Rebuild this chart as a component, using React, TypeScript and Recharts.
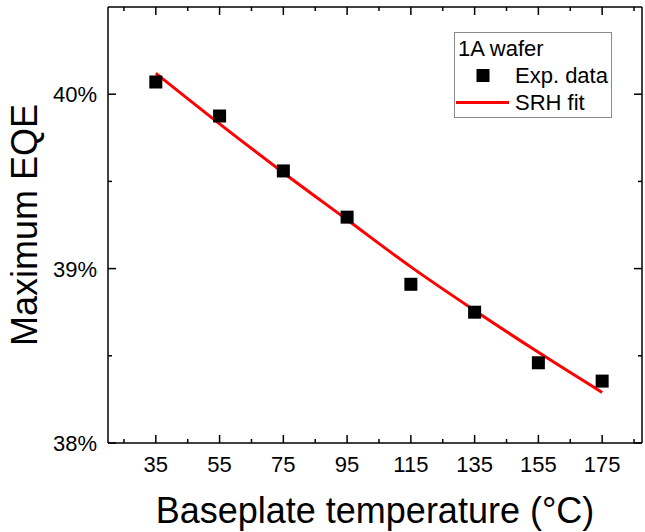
import React from "react";
import { ComposedChart, Scatter, Line, XAxis, YAxis, Legend } from "recharts";

// baseplate temperature (°C)
const temperatures = [35, 55, 75, 95, 115, 135, 155, 175];
// maximum EQE (%), measured
const eqeMeasured = [40.07, 39.875, 39.56, 39.295, 38.91, 38.75, 38.46, 38.355];
// maximum EQE (%), SRH fit
const eqeFit = [40.12, 39.83, 39.55, 39.28, 39.01, 38.76, 38.52, 38.29];

const xMajorTicks = [35, 55, 75, 95, 115, 135, 155, 175];
const xMinorTicks = [25, 45, 65, 85, 105, 125, 145, 165, 185];
const yMajorTicks = [38, 39, 40];
const yMinorTicks = [38.5, 39.5];
const yTickLabels = ["38%", "39%", "40%"];

const expData = temperatures.map((t, i) => ({ t, eqe: eqeMeasured[i] }));
const fitData = temperatures.map((t, i) => ({ t, eqe: eqeFit[i] }));

const xTicks = [...xMajorTicks, ...xMinorTicks].sort((a, b) => a - b);
const yTicks = [...yMajorTicks, ...yMinorTicks].sort((a, b) => a - b);

const X_DOMAIN: [number, number] = [20, 187.5];
const Y_DOMAIN: [number, number] = [38, 40.5];

const FONT = '"Liberation Sans", Arial, Helvetica, sans-serif';
const MAJOR_LEN = 8;
const MINOR_LEN = 4;

type Side = "bottom" | "top" | "left" | "right";

function isMajor(majors: number[], v: number) {
  return majors.some((m) => Math.abs(m - v) < 1e-6);
}

// ticks point into the plot, like the Origin style frame
function makeTick(side: Side, majors: number[], label?: (v: number) => string) {
  return (props: any) => {
    const { x, y, payload } = props;
    const v = payload.value;
    const major = isMajor(majors, v);
    const len = major ? MAJOR_LEN : MINOR_LEN;
    let x2 = x, y2 = y;
    if (side === "bottom") y2 = y - len;
    if (side === "top") y2 = y + len;
    if (side === "left") x2 = x + len;
    if (side === "right") x2 = x - len;

    let text = null;
    if (label && major) {
      if (side === "bottom") {
        text = (
          <text x={x} y={y + 29} textAnchor="middle" fontSize={22} fontFamily={FONT} fill="#000">
            {label(v)}
          </text>
        );
      } else if (side === "left") {
        text = (
          <text x={x - 11} y={y + 8} textAnchor="end" fontSize={22} fontFamily={FONT} fill="#000">
            {label(v)}
          </text>
        );
      }
    }
    return (
      <g>
        <line x1={x} y1={y} x2={x2} y2={y2} stroke="#000" strokeWidth={1.5} />
        {text}
      </g>
    );
  };
}

const yLabel = (v: number) => yTickLabels[yMajorTicks.indexOf(v)] ?? `${v}%`;

function YTitle(props: any) {
  const vb = props.viewBox;
  const cx = vb.x + 24;
  const cy = vb.y + vb.height / 2;
  return (
    <text
      x={cx} y={cy} transform={`rotate(-90, ${cx}, ${cy})`}
      textAnchor="middle" dominantBaseline="central"
      fontSize={36} fontFamily={FONT} fill="#000"
    >
      Maximum EQE
    </text>
  );
}

function LegendBox() {
  const row: React.CSSProperties = { display: "flex", alignItems: "center", height: 27 };
  return (
    <div style={{
      width: 158, height: 86, boxSizing: "border-box", border: "1px solid #8a8a8a",
      background: "#fff", fontFamily: FONT, fontSize: 22, color: "#000",
      paddingTop: 2, lineHeight: "27px",
    }}>
      <div style={{ ...row, paddingLeft: 3 }}>1A wafer</div>
      <div style={row}>
        <svg width={60} height={27}>
          <rect x={21.5} y={7} width={13} height={13} fill="#000" />
        </svg>
        <span>Exp. data</span>
      </div>
      <div style={row}>
        <svg width={60} height={27}>
          <line x1={1} y1={13.5} x2={54} y2={13.5} stroke="#ff0000" strokeWidth={3} />
        </svg>
        <span>SRH fit</span>
      </div>
    </div>
  );
}

const axisLine = { stroke: "#000", strokeWidth: 1.5 };

export default function App() {
  return (
    <div style={{ width: 645, height: 532, background: "#fff" }}>
      <style>{`body { margin: 0; }`}</style>
      <ComposedChart width={645} height={532} margin={{ top: 6, right: 2, bottom: 0, left: 0 }}>
        <XAxis
          xAxisId="bottom" dataKey="t" type="number" domain={X_DOMAIN} allowDataOverflow
          ticks={xTicks} interval={0} height={89}
          axisLine={axisLine} tickLine={false} tickSize={0} tickMargin={0}
          tick={makeTick("bottom", xMajorTicks, (v) => String(v))}
          label={{
            value: "Baseplate temperature (°C)", position: "insideBottom", offset: 9,
            fontSize: 36, fontFamily: FONT, fill: "#000",
          }}
        />
        <XAxis
          xAxisId="top" orientation="top" dataKey="t" type="number" domain={X_DOMAIN} allowDataOverflow
          ticks={xTicks} interval={0} height={1}
          axisLine={axisLine} tickLine={false} tickSize={0} tickMargin={0}
          tick={makeTick("top", xMajorTicks)}
        />
        <YAxis
          yAxisId="left" type="number" domain={Y_DOMAIN} allowDataOverflow
          ticks={yTicks} interval={0} width={108}
          axisLine={axisLine} tickLine={false} tickSize={0} tickMargin={0}
          tick={makeTick("left", yMajorTicks, yLabel)}
          label={<YTitle />}
        />
        <YAxis
          yAxisId="right" orientation="right" type="number" domain={Y_DOMAIN} allowDataOverflow
          ticks={yTicks} interval={0} width={1}
          axisLine={axisLine} tickLine={false} tickSize={0} tickMargin={0}
          tick={makeTick("right", yMajorTicks)}
        />
        <Scatter
          name="Exp. data" data={expData} dataKey="eqe" xAxisId="bottom" yAxisId="left"
          isAnimationActive={false}
          shape={(p: any) => <rect x={p.cx - 6.5} y={p.cy - 6.5} width={13} height={13} fill="#000" />}
        />
        {/* the fit sits on the mirrored top/right axes, which share the same domains */}
        <Line
          name="SRH fit" data={fitData} dataKey="eqe" xAxisId="top" yAxisId="right"
          type="monotone" stroke="#ff0000" strokeWidth={3} dot={false} activeDot={false}
          isAnimationActive={false}
        />
        <Legend
          layout="vertical" align="center" verticalAlign="middle"
          content={() => <LegendBox />}
          wrapperStyle={{ left: 454, top: 32, width: 158, height: 86 }}
        />
      </ComposedChart>
    </div>
  );
}
